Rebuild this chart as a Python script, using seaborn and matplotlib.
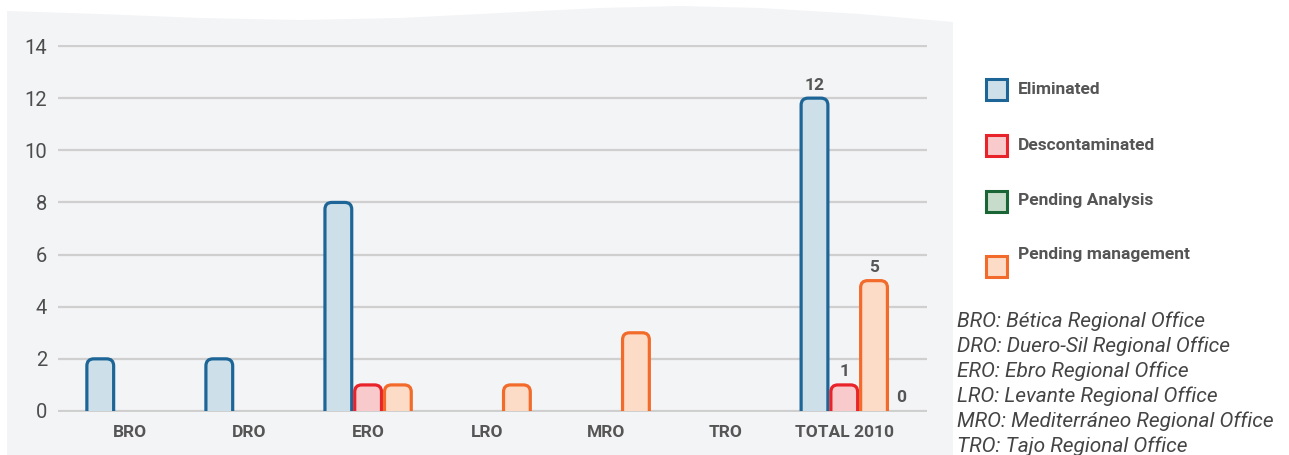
import numpy as np
import pandas as pd
import matplotlib
matplotlib.use("Agg")
import matplotlib.pyplot as plt
import matplotlib.colors as mcolors
import seaborn as sns
from matplotlib.patches import FancyBboxPatch, Rectangle, Polygon

# data
offices = ["BRO", "DRO", "ERO", "LRO", "MRO", "TRO", "TOTAL 2010"]
eliminated = [2, 2, 8, 0, 0, 0, 12]
descontaminated = [0, 0, 1, 0, 0, 0, 1]
pending_analysis = [0, 0, 0, 0, 0, 0, 0]
pending_management = [0, 0, 1, 1, 3, 0, 5]

office_names = [
    "BRO: Bética Regional Office",
    "DRO: Duero-Sil Regional Office",
    "ERO: Ebro Regional Office",
    "LRO: Levante Regional Office",
    "MRO: Mediterráneo Regional Office",
    "TRO: Tajo Regional Office",
]

legend_order = ["Eliminated", "Descontaminated", "Pending Analysis", "Pending management"]
bar_order = ["Eliminated", "Descontaminated", "Pending management", "Pending Analysis"]
fill_colors = {
    "Eliminated": "#cde0ea",
    "Descontaminated": "#f8cacb",
    "Pending Analysis": "#c7dcca",
    "Pending management": "#fddcc7",
}
edge_colors = {
    "Eliminated": "#1d6596",
    "Descontaminated": "#e8232a",
    "Pending Analysis": "#1a6535",
    "Pending management": "#f26b2a",
}

series = {
    "Eliminated": eliminated,
    "Descontaminated": descontaminated,
    "Pending Analysis": pending_analysis,
    "Pending management": pending_management,
}
df = pd.DataFrame(
    [(o, s, v) for s, vals in series.items() for o, v in zip(offices, vals)],
    columns=["office", "status", "count"],
)

sns.set_style("white")
plt.rcParams["font.family"] = ["Roboto", "DejaVu Sans"]
TXT = "#555555"

W, H = 1289, 455
fig = plt.figure(figsize=(W / 100, H / 100), dpi=100)

# light grey panel with gently wavy top edge behind the chart
wave_x = [7, 100, 200, 300, 400, 500, 600, 680, 760, 860, 953]
wave_y = [11, 14, 18, 20, 18, 13, 8, 6, 8, 14, 22]
panel_pts = [(7, 455)] + list(zip(wave_x, wave_y)) + [(953, 455)]
fig.add_artist(Polygon([(x / W, 1 - y / H) for x, y in panel_pts], closed=True,
                       transform=fig.transFigure, facecolor="#f3f4f6",
                       edgecolor="none", zorder=0))

ylo, yhi = -0.05, 14.05
ppu = 365 / 14  # pixels per y unit
bottom_px = 411 - ylo * ppu
top_px = 46 - (yhi - 14) * ppu
ax = fig.add_axes([58 / W, 1 - bottom_px / H, (927 - 58) / W, (bottom_px - top_px) / H])
ax.set_facecolor("none")

sns.barplot(data=df, x="office", y="count", hue="status", order=offices,
            hue_order=bar_order, palette=fill_colors, saturation=1,
            width=1.0, gap=0.1, legend=False, ax=ax)

xlo, xhi = -0.73, 6.57
ax.set_xlim(xlo, xhi)
ax.set_ylim(ylo, yhi)


def closest_series(fc):
    d = [np.abs(np.array(mcolors.to_rgba(fill_colors[s])) - np.array(fc)).sum() for s in bar_order]
    return bar_order[int(np.argmin(d))]


# swap plain bars for bars with rounded tops
ppx = (927 - 58) / (xhi - xlo)
rx = 7 / ppx
ry = 7 / ppu
clip = Rectangle((xlo - 1, 0), 20, 30, transform=ax.transData)
for p in list(ax.patches):
    x, w, h = p.get_x(), p.get_width(), p.get_height()
    fc = p.get_facecolor()
    p.remove()
    if h <= 0:
        continue
    name = closest_series(fc)
    bar = FancyBboxPatch((x, -ry), w, h + ry,
                         boxstyle=f"round,pad=0,rounding_size={rx}",
                         mutation_aspect=ry / rx,
                         facecolor=fill_colors[name], edgecolor=edge_colors[name],
                         linewidth=2.3, zorder=2)
    ax.add_patch(bar)
    bar.set_clip_path(clip)

# value labels on the total group
pitch = 0.25
last = len(offices) - 1
for k, s in enumerate(bar_order):
    v = series[s][last]
    ax.annotate(str(v), (last + (k - 1.5) * pitch, v), xytext=(-2 if v == 0 else 0, 4),
                textcoords="offset points", ha="center", va="bottom",
                fontsize=12.5, fontweight="bold", color=TXT)

ax.set_yticks(range(0, 15, 2))
ax.grid(axis="y", color="#cfcfcf", linewidth=1.6)
ax.grid(axis="x", visible=False)
ax.set_axisbelow(True)
sns.despine(ax=ax, left=True, bottom=True)
ax.set_xticks(np.arange(len(offices)) - 0.5 * pitch)
ax.set_xticklabels(offices, fontsize=12.5, fontweight="bold", color=TXT)
ax.tick_params(axis="y", length=0, pad=8, labelsize=14.5, labelcolor="#4d4d4d")
ax.tick_params(axis="x", length=0, pad=9)
ax.set_xlabel("")
ax.set_ylabel("")

# legend drawn by hand
box_y = [89.5, 145, 201, 266]
text_y = [89.5, 145, 201, 255]
for s, by, ty in zip(legend_order, box_y, text_y):
    fig.add_artist(Rectangle((986 / W, 1 - (by + 10.5) / H), 21 / W, 21 / H,
                             transform=fig.transFigure, facecolor=fill_colors[s],
                             edgecolor=edge_colors[s], linewidth=2.2))
    fig.text(1018 / W, 1 - ty / H, s, fontsize=12.5, fontweight="bold",
             color=TXT, va="center", ha="left")

for i, line in enumerate(office_names):
    fig.text(957 / W, 1 - (321 + 25 * i) / H, line, fontsize=15,
             fontstyle="italic", color="#444444", va="center", ha="left")

fig.savefig("out.png", dpi=100, facecolor="white")
